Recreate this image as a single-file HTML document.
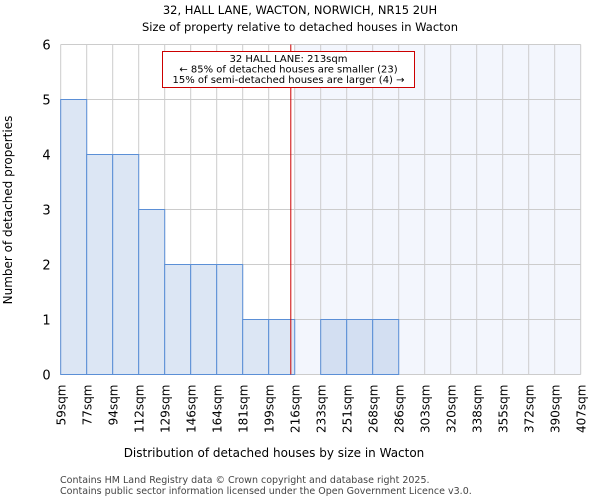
<!DOCTYPE html>
<html><head><meta charset="utf-8"><style>
body{margin:0;background:#fff;font-family:"DejaVu Sans","Liberation Sans",sans-serif}
svg text{font-family:"DejaVu Sans","Liberation Sans",sans-serif}
</style></head><body>
<svg id="chart" width="600" height="500">
<text x="300" y="14" text-anchor="middle" font-size="11.5">32, HALL LANE, WACTON, NORWICH, NR15 2UH</text>
<text x="300" y="31" text-anchor="middle" font-size="11.5">Size of property relative to detached houses in Wacton</text>
<g id="plot"></g>
<text x="274" y="457" text-anchor="middle" font-size="12">Distribution of detached houses by size in Wacton</text>
<text transform="translate(12,210) rotate(-90)" text-anchor="middle" font-size="12">Number of detached properties</text>
<text x="60" y="483" font-size="9.5" fill="#444">Contains HM Land Registry data © Crown copyright and database right 2025.</text>
<text x="60" y="494" font-size="9.5" fill="#444">Contains public sector information licensed under the Open Government Licence v3.0.</text>
</svg>
<script>
const edgeLabels=["59sqm","77sqm","94sqm","112sqm","129sqm","146sqm","164sqm","181sqm","199sqm","216sqm","233sqm","251sqm","268sqm","286sqm","303sqm","320sqm","338sqm","355sqm","372sqm","390sqm","407sqm"];
const counts=[5,4,4,3,2,2,2,1,1,0,1,1,1,0,0,0,0,0,0,0];
const yTicks=[0,1,2,3,4,5,6];
const propertyIndex=8.85; // bin position of 213sqm
const highlightStart=9;
const NS="http://www.w3.org/2000/svg";
const g=document.getElementById('plot');
const X0=60.7,BW=26,Y0=374.5,YU=55,YMAX=6;
const xs=i=>X0+i*BW, ys=v=>Y0-v*YU;
function mk(t,a,p){const e=document.createElementNS(NS,t);for(const k in a)e.setAttribute(k,a[k]);(p||g).appendChild(e);return e;}
const W=xs(counts.length)-X0;
let r=mk('rect',{x:xs(highlightStart),y:ys(YMAX),width:xs(counts.length)-xs(highlightStart),height:Y0-ys(YMAX),fill:'#f3f6fd'});


for(let i=0;i<=counts.length;i++){let l=mk('line',{x1:xs(i),x2:xs(i),y1:ys(YMAX),y2:Y0,stroke:'#cccccc','stroke-width':1});

}
yTicks.forEach(v=>{let l=mk('line',{x1:X0,x2:X0+W,y1:ys(v),y2:ys(v),stroke:'#cccccc','stroke-width':1});


let t=mk('text',{x:X0-10,y:ys(v)+5,'text-anchor':'end','font-size':13});t.textContent=v;

});
counts.forEach((c,i)=>{if(!c)return;let b=mk('rect',{x:xs(i),y:ys(c),width:BW,height:Y0-ys(c),fill:i>=highlightStart?'#d3dff2':'#dce6f4',stroke:'#5b8fd6','stroke-width':1});

});
edgeLabels.forEach((s,i)=>{let t=mk('text',{transform:`translate(${xs(i)+5},${Y0+10}) rotate(-90)`,'text-anchor':'end','font-size':12});t.textContent=s;

});
let rl=mk('line',{x1:xs(propertyIndex),x2:xs(propertyIndex),y1:ys(YMAX),y2:Y0,stroke:'#cc0000','stroke-width':1});


let ab=mk('rect',{x:162.5,y:51.5,width:252,height:36,fill:'#fff',stroke:'#cc0000','stroke-width':1});


["32 HALL LANE: 213sqm","← 85% of detached houses are smaller (23)","15% of semi-detached houses are larger (4) →"].forEach((s,k)=>{let t=mk('text',{x:288.5,y:62+k*10.5,'text-anchor':'middle','font-size':10});t.textContent=s;

});
</script>
</body></html>
